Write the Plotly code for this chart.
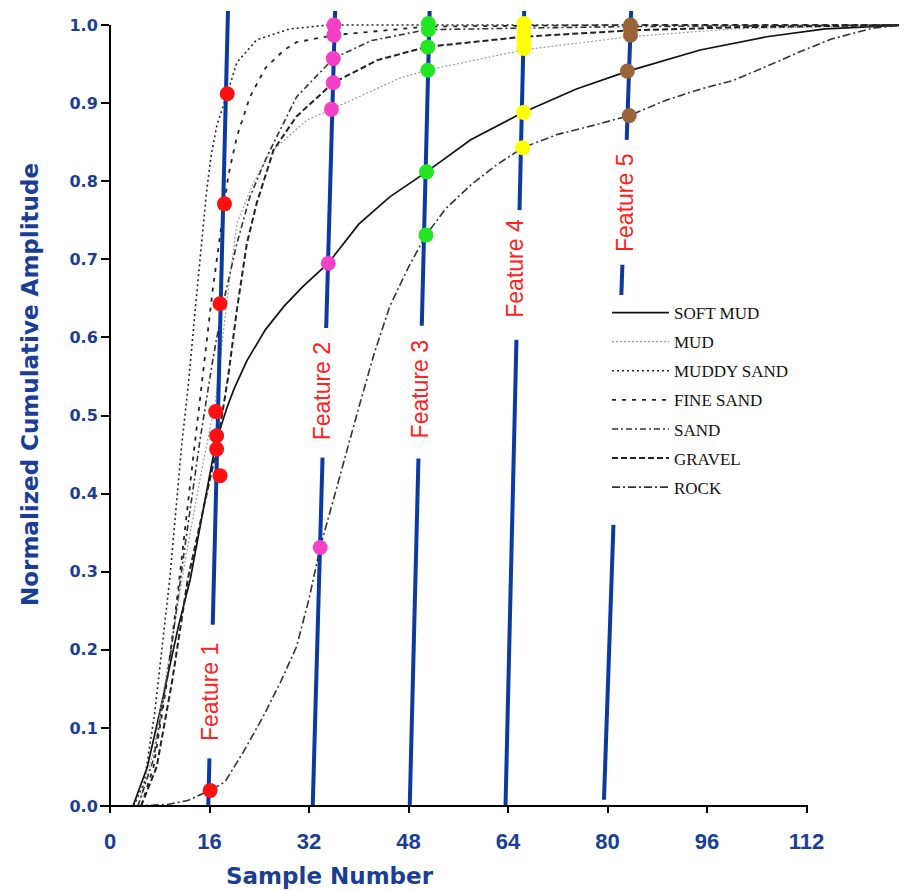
import plotly.graph_objects as go

# ---------------- data ----------------
SERIES_NAMES = ["SOFT MUD", "MUD", "MUDDY SAND", "FINE SAND", "SAND", "GRAVEL", "ROCK"]

soft_mud_x = [3.7, 6, 8, 9.6, 11, 12.9, 15, 17, 18.8, 20, 22, 25, 28, 31, 35.1, 40, 45, 50.9, 58, 66.4, 75, 83.3, 94.9, 105.6, 115, 128]
soft_mud_y = [0, 0.05, 0.12, 0.18, 0.23, 0.29, 0.38, 0.465, 0.51, 0.535, 0.57, 0.61, 0.64, 0.665, 0.695, 0.745, 0.78, 0.812, 0.853, 0.888, 0.918, 0.941, 0.968, 0.985, 0.995, 1.0]

mud_x = [4.5, 7, 9.5, 12, 14.5, 17, 18.7, 20.4, 23, 25.7, 31.6, 35.6, 46.6, 50.9, 66.4, 83.5, 100, 128]
mud_y = [0, 0.07, 0.19, 0.31, 0.42, 0.52, 0.64, 0.746, 0.797, 0.836, 0.878, 0.892, 0.932, 0.942, 0.968, 0.985, 0.995, 1.0]

muddy_sand_x = [3.8, 5.5, 7.2, 9.6, 11.5, 12.6, 13.7, 14.7, 15.5, 16.3, 17.2, 18.85, 20.4, 23.6, 28.9, 35, 128]
muddy_sand_y = [0, 0.03, 0.12, 0.29, 0.46, 0.54, 0.635, 0.72, 0.785, 0.835, 0.872, 0.912, 0.952, 0.981, 0.995, 1.0, 1.0]

fine_sand_x = [5, 7, 9, 11, 13, 15, 16.5, 18.4, 19, 20.4, 22.5, 25, 28, 30, 36, 50.9, 66.5, 83.5, 128]
fine_sand_y = [0, 0.05, 0.15, 0.28, 0.42, 0.56, 0.66, 0.771, 0.806, 0.857, 0.908, 0.945, 0.968, 0.978, 0.987, 0.998, 0.999, 1.0, 1.0]

sand_x = [4.5, 7, 9.5, 12, 14.5, 16.5, 18.2, 20.4, 22.5, 25.2, 30, 35.9, 42, 50.9, 66.5, 83.5, 128]
sand_y = [0, 0.06, 0.18, 0.33, 0.47, 0.57, 0.644, 0.72, 0.78, 0.831, 0.908, 0.957, 0.98, 0.994, 0.996, 0.998, 1.0]

gravel_x = [5, 7.5, 10, 12.5, 15, 17.15, 19, 20.4, 22, 23.6, 26.3, 30, 35.9, 43, 50.9, 66.5, 83.5, 100, 128]
gravel_y = [0, 0.05, 0.16, 0.29, 0.38, 0.457, 0.55, 0.635, 0.72, 0.772, 0.84, 0.883, 0.926, 0.955, 0.972, 0.985, 0.993, 0.997, 1.0]

rock_x = [4, 9.3, 12.5, 16.1, 18.5, 21.5, 24.6, 27.5, 30, 32, 33.8, 35.9, 38, 40, 42.5, 45, 48, 50.8, 54, 58, 62, 66.4, 72, 78, 83.5, 89.5, 95, 100.2, 105, 111, 116, 122.7, 128]
rock_y = [0, 0.002, 0.007, 0.02, 0.031, 0.07, 0.114, 0.16, 0.204, 0.265, 0.331, 0.392, 0.45, 0.51, 0.58, 0.64, 0.69, 0.731, 0.765, 0.795, 0.82, 0.843, 0.86, 0.872, 0.884, 0.904, 0.918, 0.929, 0.945, 0.966, 0.982, 0.996, 1.0]

SERIES_X = [soft_mud_x, mud_x, muddy_sand_x, fine_sand_x, sand_x, gravel_x, rock_x]
SERIES_Y = [soft_mud_y, mud_y, muddy_sand_y, fine_sand_y, sand_y, gravel_y, rock_y]

# feature lines (slanted): x at bottom (y=0) and at top (y=FEATURE_TOP_Y)
FEATURE_NAMES = ["Feature 1", "Feature 2", "Feature 3", "Feature 4", "Feature 5"]
FEATURE_BOTTOM_X = [15.8, 32.6, 48.2, 63.6, 79.4]
FEATURE_TOP_X = [18.97, 36.2, 51.4, 66.6, 83.8]
FEATURE_TOP_Y = 1.018
FEATURE_SEGMENTS = [
    [(0.0, 0.061), (0.232, 1.018)],
    [(0.0, 0.446), (0.612, 1.018)],
    [(0.0, 0.445), (0.615, 1.018)],
    [(0.0, 0.597), (0.763, 1.018)],
    [(0.008, 0.36), (0.654, 0.693), (0.853, 1.018)],
]
FEATURE_LABEL_X = [16.1, 34.1, 49.8, 65.1, 82.8]
FEATURE_LABEL_Y = [0.146, 0.531, 0.533, 0.689, 0.772]

# intersection markers
f1_x = [18.85, 18.4, 17.7, 17.0, 17.15, 17.15, 17.7, 16.1]
f1_y = [0.912, 0.771, 0.643, 0.505, 0.474, 0.457, 0.423, 0.020]
f2_x = [36.0, 36.0, 35.9, 35.9, 35.6, 35.1, 33.8]
f2_y = [1.0, 0.987, 0.957, 0.926, 0.892, 0.695, 0.331]
f3_x = [51.2, 51.2, 51.1, 51.1, 50.9, 50.8]
f3_y = [1.002, 0.994, 0.972, 0.942, 0.812, 0.731]
f4_x = [66.56, 66.56, 66.56, 66.56, 66.5, 66.35]
f4_y = [1.002, 0.99, 0.98, 0.97, 0.888, 0.843]
f5_x = [83.7, 83.7, 83.7, 83.2, 83.5]
f5_y = [1.0, 0.995, 0.987, 0.941, 0.884]
MARKER_X = [f1_x, f2_x, f3_x, f4_x, f5_x]
MARKER_Y = [f1_y, f2_y, f3_y, f4_y, f5_y]

X_TICKS = [0, 16, 32, 48, 64, 80, 96, 112]
Y_TICKS = [0.0, 0.1, 0.2, 0.3, 0.4, 0.5, 0.6, 0.7, 0.8, 0.9, 1.0]

# ---------------- styles / layout ----------------
SERIES_STYLE = [
    dict(color="#111111", width=1.7, dash="solid"),
    dict(color="#9a9a9a", width=1.2, dash="2px,2px"),
    dict(color="#222222", width=1.6, dash="2px,3px"),
    dict(color="#222222", width=1.8, dash="4px,6px"),
    dict(color="#333333", width=1.6, dash="6px,3px,2px,3px"),
    dict(color="#222222", width=2.0, dash="6px,3px"),
    dict(color="#333333", width=1.6, dash="8px,3px,2px,3px"),
]
MARKER_COLORS = ["#ff1010", "#f540c8", "#22e622", "#ffff00", "#9a6438"]
BLUE = "#0c3aa0"
AXIS_BLUE = "#1a3e96"

# the page body adds an 8px offset; figure is sized to fit the window
FIG_W, FIG_H = 899, 882
ML, MT = 102, 1
PLOT_W = 796
Y_TOP = 1.0205
PLOT_H = 797
MR = FIG_W - ML - PLOT_W
MB = FIG_H - MT - PLOT_H
OFF = 8


def px_x(p):   # page pixel -> paper x
    return (p - OFF - ML) / PLOT_W


def px_y(p):   # page pixel -> paper y
    return (FIG_H - MB - (p - OFF)) / PLOT_H


fig = go.Figure()

for name, xs, ys, st in zip(SERIES_NAMES, SERIES_X, SERIES_Y, SERIES_STYLE):
    fig.add_trace(go.Scatter(x=xs, y=ys, mode="lines", name=name, line=st,
                             legendgroup=name, showlegend=True, hoverinfo="skip"))

for xb, xt, segs in zip(FEATURE_BOTTOM_X, FEATURE_TOP_X, FEATURE_SEGMENTS):
    lx, ly = [], []
    for (y0, y1) in segs:
        for yy in (y0, y1):
            lx.append(xb + (xt - xb) * yy / FEATURE_TOP_Y)
            ly.append(yy)
        lx.append(None)
        ly.append(None)
    fig.add_trace(go.Scatter(x=lx, y=ly, mode="lines", line=dict(color=BLUE, width=4),
                             showlegend=False, hoverinfo="skip"))

for mx, my, mc in zip(MARKER_X, MARKER_Y, MARKER_COLORS):
    fig.add_trace(go.Scatter(x=mx, y=my, mode="markers",
                             marker=dict(color=mc, size=15, line=dict(width=0)),
                             showlegend=False, hoverinfo="skip"))

for name, lx, ly in zip(FEATURE_NAMES, FEATURE_LABEL_X, FEATURE_LABEL_Y):
    fig.add_annotation(x=lx, y=ly, text=name, showarrow=False, textangle=-90,
                       font=dict(family="Liberation Sans, Arial, sans-serif", size=23, color="#ff2020"),
                       xanchor="center", yanchor="middle")

title_font = dict(family="DejaVu Sans, sans-serif", size=23, color=AXIS_BLUE)
fig.add_annotation(x=px_x(330), y=px_y(876), xref="paper", yref="paper",
                   text="<b>Sample Number</b>", showarrow=False,
                   font=title_font, xanchor="center", yanchor="middle")
fig.add_annotation(x=px_x(30), y=px_y(385), xref="paper", yref="paper",
                   text="<b>Normalized Cumulative Amplitude</b>", showarrow=False, textangle=-90,
                   font=title_font, xanchor="center", yanchor="middle")

# axis lines
fig.add_shape(type="line", xref="paper", yref="paper", x0=px_x(100), x1=px_x(808), y0=0, y1=0,
              line=dict(color="black", width=2))
fig.add_shape(type="line", xref="paper", yref="paper", x0=0, x1=0, y0=0, y1=1.0 / Y_TOP,
              line=dict(color="black", width=2))

fig.update_layout(
    width=FIG_W, height=FIG_H,
    margin=dict(l=ML, r=MR, t=MT, b=MB, autoexpand=False),
    paper_bgcolor="white", plot_bgcolor="white",
    xaxis=dict(range=[0, 128], tickvals=X_TICKS, ticktext=[str(v) for v in X_TICKS],
               showgrid=False, zeroline=False, showline=False, automargin=False,
               ticks="outside", ticklen=6, tickwidth=1.5, tickcolor="black",
               tickfont=dict(family="Liberation Sans, Arial, sans-serif", size=22, color=AXIS_BLUE, weight="bold"),
               ticklabelstandoff=10),
    yaxis=dict(range=[0, Y_TOP], tickvals=Y_TICKS, ticktext=["%.1f" % v for v in Y_TICKS],
               showgrid=False, zeroline=False, showline=False, automargin=False,
               ticks="outside", ticklen=8, tickwidth=1.5, tickcolor="black",
               tickfont=dict(family="DejaVu Sans, Verdana, sans-serif", size=16, color=AXIS_BLUE, weight="bold")),
    legend=dict(x=px_x(607), y=px_y(295), xanchor="left", yanchor="top",
                bgcolor="white", borderwidth=0, itemwidth=57,
                font=dict(family="Liberation Serif, Times New Roman, serif", size=17, color="#111111"),
                traceorder="grouped", tracegroupgap=4),
    showlegend=True,
)

fig.write_html("out.html")
